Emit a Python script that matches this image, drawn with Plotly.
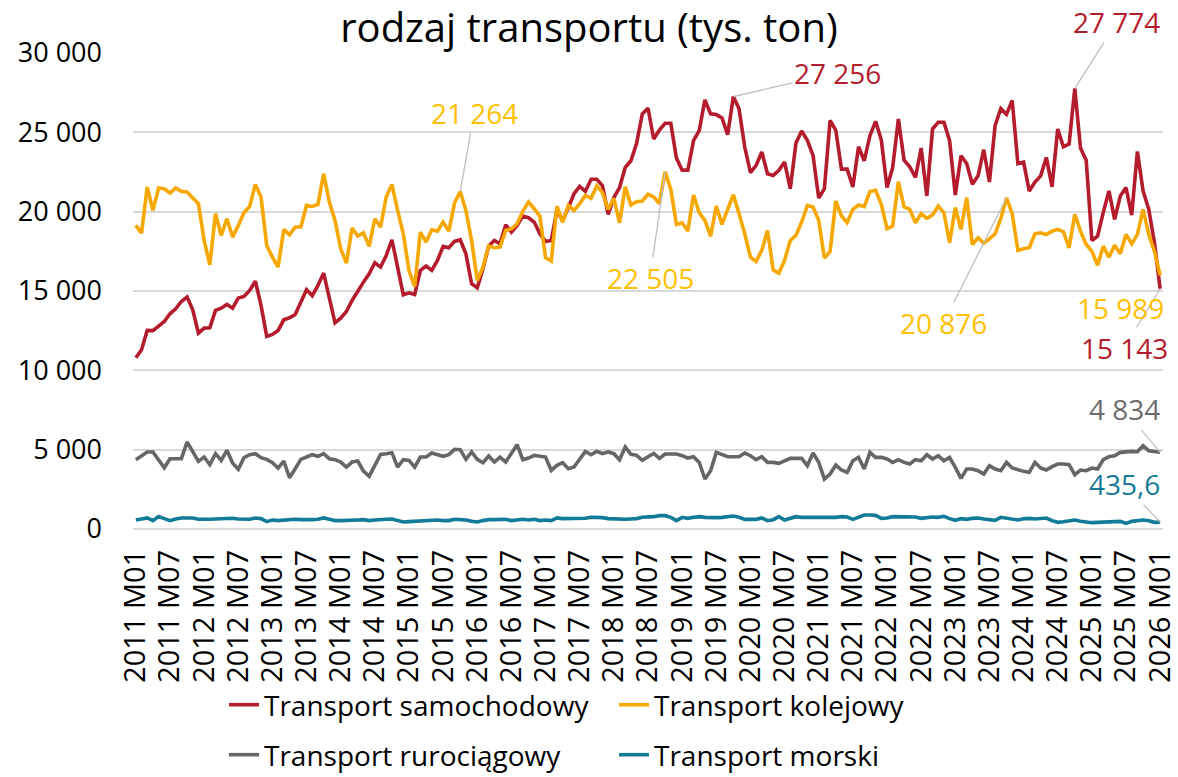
import plotly.graph_objects as go

# ---------------- data ----------------
years = list(range(2011, 2027))
months = [f"{y} M{m:02d}" for y in years for m in range(1, 13)]
months = months[: months.index("2026 M01") + 1]   # 2011 M01 .. 2026 M01 (181)

tick_labels = months[::6]

samochodowy = [
    10789, 11294, 12513, 12500, 12786, 13080, 13564, 13880, 14340, 14615,
    13816, 12344, 12660, 12680, 13774, 13920, 14152, 13920, 14550, 14656,
    15035, 15624, 14090, 12134, 12260, 12513, 13185, 13311, 13520, 14300,
    15077, 14700, 15350, 16128, 14550, 12996, 13290, 13710, 14404, 15035,
    15560, 16086, 16780, 16506, 17242, 18230, 16506, 14761, 14888, 14782,
    16296, 16570, 16296, 16927, 17809, 17725, 18125, 18230, 17347, 15455,
    15203, 16401, 17830, 18188, 17978, 19176, 18713, 19134, 19723, 19617,
    19344, 18608, 18125, 18188, 20080, 19449, 20248, 21131, 21593, 21278,
    22046, 22046, 21624, 19831, 20886, 21519, 22785, 23207, 24305, 26162,
    26521, 24578, 25148, 25570, 25570, 23375, 22616, 22616, 24473, 25106,
    27047, 26161, 26119, 25907, 24852, 27256, 26491, 24074, 22455, 22918,
    23759, 22392, 22287, 22602, 23128, 21446, 24326, 25083, 24494, 23548,
    20858, 21446, 25755, 25125, 22679, 22679, 21561, 24093, 23207, 24789,
    25696, 24515, 21519, 22785, 25844, 23249, 22827, 22152, 24008, 20991,
    25211, 25633, 25633, 24473, 21054, 23523, 23038, 21730, 22257, 23905,
    21866, 25439, 26491, 26133, 27016, 23022, 23127, 21298, 21866, 22257,
    23418, 21561, 25211, 24093, 24262, 27774, 24009, 23249, 18185, 18460,
    19937, 21308, 19514, 20992, 21519, 19789, 23797, 21308, 20147, 18037,
    15143,
]

kolejowy = [
    19134, 18650, 21551, 20080, 21488, 21446, 21173, 21488, 21278, 21236,
    20858, 20500, 18188, 16654, 19870, 18503, 19554, 18398, 19134, 19933,
    20332, 21719, 20921, 17872, 17137, 16506, 18881, 18545, 19029, 19029,
    20395, 20332, 20458, 22392, 20605, 19449, 17662, 16758, 18966, 18461,
    18671, 17809, 19554, 19029, 20921, 21720, 20080, 18608, 16296, 15287,
    18713, 18083, 18860, 18776, 19344, 18776, 20542, 21264, 20080, 18188,
    15666, 16506, 17830, 17725, 17767, 18818, 18924, 19239, 20017, 20605,
    20185, 19723, 17095, 16885, 20353, 19344, 20395, 20080, 20500, 21026,
    20843, 21624, 21202, 20147, 20843, 19303, 21561, 20421, 20632, 20675,
    21097, 20928, 20506, 22505, 21413, 19198, 19303, 18775, 21054, 19936,
    19451, 18459, 20358, 19198, 20147, 21068, 19870, 18608, 17137, 16864,
    17557, 18818, 16338, 16128, 16927, 18188, 18503, 19344, 20395, 20290,
    19449, 17074, 17494, 20668, 19725, 19303, 20147, 20421, 20316, 21265,
    21350, 20464, 18923, 19092, 21898, 20295, 20147, 19303, 19873, 19578,
    19789, 20358, 19936, 18037, 20253, 18881, 20886, 17931, 18353, 18020,
    18293, 18608, 19554, 20876, 19869, 17557, 17662, 17725, 18608, 18670,
    18565, 18775, 18881, 18734, 17720, 19831, 18775, 17931, 17509, 16623,
    17826, 17130, 17889, 17341, 18565, 17973, 18565, 20147, 18565, 17509,
    15989,
]

rurociagowy = [
    4368, 4642, 4853, 4853, 4326, 3861, 4431, 4431, 4431, 5486,
    4853, 4262, 4536, 4051, 4748, 4326, 4958, 4157, 3756, 4494,
    4684, 4748, 4494, 4389, 4178, 3840, 4283, 3228, 3798, 4389,
    4536, 4684, 4579, 4748, 4431, 4368, 4220, 3904, 4220, 4283,
    3650, 3313, 4009, 4705, 4748, 4811, 3904, 4368, 4326, 3904,
    4536, 4536, 4790, 4684, 4579, 4684, 5022, 5001, 4389, 4853,
    4389, 4178, 4600, 4220, 4536, 4220, 4790, 5317, 4368, 4473,
    4642, 4600, 4536, 3693, 4009, 4178, 3798, 3904, 4368, 4895,
    4684, 4895, 4748, 4853, 4748, 4368, 5170, 4705, 4642, 4326,
    4557, 4767, 4452, 4725, 4725, 4725, 4620, 4473, 4557, 4200,
    3150, 3675, 4830, 4683, 4557, 4557, 4557, 4788, 4620, 4368,
    4557, 4200, 4200, 4137, 4305, 4452, 4452, 4452, 3990, 4788,
    4200, 3150, 3465, 4032, 3717, 3570, 4305, 4515, 3780, 4830,
    4515, 4515, 4410, 4200, 4368, 4200, 4095, 4368, 4305, 4683,
    4410, 4620, 4305, 4515, 3885, 3192, 3780, 3780, 3675, 3465,
    3990, 3780, 3675, 4200, 3843, 3717, 3633, 3570, 4200, 3843,
    3717, 3927, 4095, 4095, 4053, 3423, 3717, 3675, 3843, 3780,
    4368, 4557, 4620, 4830, 4872, 4893, 4872, 5250, 4935, 4872,
    4834,
]

morski = [
    570, 633, 696, 528, 780, 654, 528, 633, 696, 696,
    696, 612, 591, 612, 633, 654, 654, 675, 633, 612,
    612, 696, 654, 464, 570, 528, 570, 570, 612, 591,
    570, 591, 612, 696, 612, 528, 528, 528, 549, 570,
    591, 528, 570, 612, 612, 633, 528, 443, 464, 485,
    485, 528, 528, 570, 528, 528, 612, 612, 570, 485,
    443, 528, 591, 591, 612, 612, 528, 591, 612, 570,
    612, 528, 570, 528, 696, 654, 654, 633, 633, 675,
    738, 738, 717, 654, 633, 654, 612, 633, 654, 738,
    735, 777, 840, 840, 735, 525, 735, 672, 735, 777,
    735, 714, 714, 735, 777, 819, 735, 609, 609, 609,
    693, 525, 588, 777, 567, 651, 777, 735, 735, 714,
    693, 693, 735, 735, 777, 756, 609, 735, 882, 882,
    861, 672, 693, 777, 777, 735, 735, 756, 672, 735,
    756, 735, 798, 651, 546, 651, 609, 672, 693, 630,
    567, 546, 735, 693, 630, 567, 651, 672, 630, 651,
    693, 525, 420, 462, 525, 567, 483, 420, 399, 420,
    420, 441, 462, 483, 357, 483, 525, 567, 525, 420,
    435.6,
]

series_names = ["Transport samochodowy", "Transport kolejowy",
                "Transport rurociągowy", "Transport morski"]

# labelled points: (series index, month label)
labelled = [
    (0, "2019 M10"), (0, "2024 M10"), (0, "2026 M01"),
    (1, "2015 M10"), (1, "2018 M10"), (1, "2023 M10"), (1, "2026 M01"),
    (2, "2026 M01"), (3, "2026 M01"),
]

# ---------------- styling ----------------
FONT = "Open Sans"
line_colors = ["#B41C2D", "#F6A800", "#646769", "#127B98"]
label_colors = ["#B41C2D", "#FFC000", "#6B6B6B", "#177A98"]
legends = ["legend", "legend", "legend2", "legend2"]
all_series = [samochodowy, kolejowy, rurociagowy, morski]

# text offsets (pixels) for labels, keyed by (series, month)
offsets = {
    (0, "2019 M10"): (104, -24, True),
    (0, "2024 M10"): (42, -66, True),
    (0, "2026 M01"): (-36, 59, True),
    (1, "2015 M10"): (14, -79, True),
    (1, "2018 M10"): (-15, 106, True),
    (1, "2023 M10"): (-63, 125, True),
    (1, "2026 M01"): (-40, 33, False),
    (2, "2026 M01"): (-36, -43, True),
    (3, "2026 M01"): (-36, -38, True),
}


def fmt(v):
    if float(v).is_integer():
        return f"{int(v):,}".replace(",", " ")
    return f"{v:,.1f}".replace(",", " ").replace(".", ",")


fig = go.Figure()
for name, vals, col, leg in zip(series_names, all_series, line_colors, legends):
    fig.add_trace(go.Scatter(
        x=months, y=vals, mode="lines", name=name,
        line=dict(color=col, width=3.6), legend=leg,
        hoverinfo="skip",
    ))

annotations = []
for s, m in labelled:
    v = all_series[s][months.index(m)]
    ax, ay, arrow = offsets[(s, m)]
    a = dict(x=m, y=v, xref="x", yref="y", text=fmt(v),
             font=dict(family=FONT, size=28, color=label_colors[s]))
    if arrow:
        a.update(showarrow=True, ax=ax, ay=ay, arrowhead=0,
                 arrowwidth=1.3, arrowcolor="#BFBFBF", standoff=0)
    else:
        a.update(showarrow=False, xshift=ax, yshift=-ay)
    annotations.append(a)

legend_common = dict(orientation="h", xref="container", yref="container",
                     x=224 / 1178, xanchor="left", yanchor="middle",
                     entrywidth=345, entrywidthmode="pixels",
                     font=dict(size=28, family=FONT),
                     bgcolor="rgba(0,0,0,0)", traceorder="normal")

fig.update_layout(
    width=1178, height=777,
    margin=dict(l=133, r=15, t=53, b=248, autoexpand=False),
    paper_bgcolor="white", plot_bgcolor="white",
    separators=", ",
    font=dict(family=FONT, size=27, color="#000000"),
    title=dict(text="rodzaj transportu (tys. ton)",
               x=0.5, xref="container", xanchor="center",
               y=1 - 42 / 777, yref="container", yanchor="bottom",
               font=dict(family=FONT, size=40, color="#000000")),
    xaxis=dict(type="category", range=[-0.5, len(months) - 0.5],
               tickmode="array", tickvals=tick_labels, ticktext=tick_labels,
               tickangle=-90, tickfont=dict(size=29, family=FONT),
               showgrid=False, showline=False, ticks="",
               ticklabelstandoff=14),
    yaxis=dict(range=[0, 30000], dtick=5000, tickformat=",d",
               gridcolor="#D9D9D9", gridwidth=1.5,
               zeroline=True, zerolinecolor="#D9D9D9", zerolinewidth=1.5,
               showline=False, ticks="",
               tickfont=dict(size=27, family=FONT),
               ticklabelstandoff=30),
    legend=dict(legend_common, y=1 - 705 / 777),
    legend2=dict(legend_common, y=1 - 755 / 777),
    annotations=annotations,
    showlegend=True,
)

fig.write_html(
    "out.html",
    config={"displayModeBar": False},
    post_script="document.body.style.margin='0';"
                "document.body.style.overflow='hidden';",
)
